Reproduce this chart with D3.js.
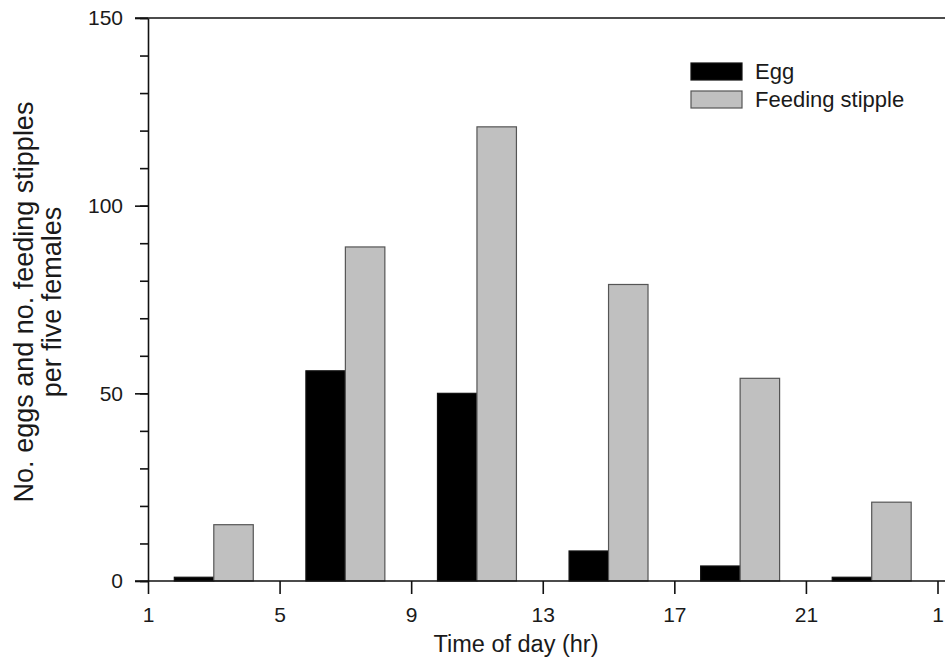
<!DOCTYPE html>
<html><head><meta charset="utf-8">
<script src="https://cdn.jsdelivr.net/npm/d3@7"></script>
<style>body{margin:0;background:#fff}svg{display:block}text{font-family:"Liberation Sans",Arial,sans-serif;fill:#1a1a1a}</style>
</head><body><svg id="c" width="945" height="662"></svg>
<script>
const hours = [3, 7, 11, 15, 19, 23];
const eggs = [1, 56, 50, 8, 4, 1];
const stipples = [15, 89, 121, 79, 54, 21];
const xTickValues = [1, 5, 9, 13, 17, 21, 25];
const xTickLabels = ["1", "5", "9", "13", "17", "21", "1"];
const yMajorTicks = [0, 50, 100, 150];
const yMinorTicks = d3.range(0, 151, 10);
const seriesNames = ["Egg", "Feeding stipple"];
const seriesColors = ["#000000", "#c0c0c0"];

const svg = d3.select("#c");
const x = d3.scaleLinear().domain([1, 25]).range([148, 937.5]);
const y = d3.scaleLinear().domain([0, 150]).range([581, 18]);
const barW = 1.2; // hours

// bars
const g = svg.append("g");
[eggs, stipples].forEach((vals, si) => {
  g.selectAll(null).data(vals).enter().append("rect")
    .attr("x", (d, i) => x(hours[i] + (si === 0 ? -barW : 0)))
    .attr("width", (d, i) => x(hours[i] + barW) - x(hours[i]))
    .attr("y", d => y(d))
    .attr("height", d => y(0) - y(d))
    .attr("fill", seriesColors[si])
    .attr("stroke", si === 0 ? "#111" : "#555")
    .attr("stroke-width", 1.2);
});

// x axis
const xAxis = d3.axisBottom(x).tickValues(xTickValues)
  .tickFormat((d, i) => xTickLabels[i]).tickSize(13).tickPadding(13).tickSizeOuter(0);
const gx = svg.append("g").attr("transform", `translate(0,${y(0)})`).call(xAxis);
gx.select(".domain").remove();
gx.append("line").attr("x1", 135).attr("x2", 960).attr("y1", 0).attr("y2", 0).attr("stroke", "#111").attr("stroke-width", 1.6);
gx.selectAll(".tick line").attr("stroke", "#111").attr("stroke-width", 1.6);
gx.selectAll(".tick text").attr("font-size", 21).attr("fill", "#1a1a1a");

// y axis
const yAxisMinor = d3.axisLeft(y).tickValues(yMinorTicks).tickSize(8).tickFormat("");
const gym = svg.append("g").attr("transform", `translate(${x(1)},0)`).call(yAxisMinor);
gym.select(".domain").remove();
gym.selectAll(".tick line").attr("stroke", "#111").attr("stroke-width", 1.6);
const yAxis = d3.axisLeft(y).tickValues(yMajorTicks).tickSize(13).tickPadding(12).tickSizeOuter(0);
const gy = svg.append("g").attr("transform", `translate(${x(1)},0)`).call(yAxis);
gy.select(".domain").attr("stroke", "#111").attr("stroke-width", 1.6);
gy.selectAll(".tick line").attr("stroke", "#111").attr("stroke-width", 1.6);
gy.selectAll(".tick text").attr("font-size", 21).attr("fill", "#1a1a1a");

// top frame line
svg.append("line").attr("x1", 135).attr("x2", 960).attr("y1", y(150)).attr("y2", y(150))
  .attr("stroke", "#111").attr("stroke-width", 1.6);

// axis titles
svg.append("text").attr("x", 516).attr("y", 652).attr("text-anchor", "middle")
  .attr("font-size", 23.5).text("Time of day (hr)");
const yt = svg.append("text").attr("transform", "translate(0,302) rotate(-90)")
  .attr("text-anchor", "middle").attr("font-size", 27);
yt.append("tspan").attr("x", 0).attr("y", 33).text("No. eggs and no. feeding stipples");
yt.append("tspan").attr("x", 0).attr("y", 61).text("per five females");

// legend
const lg = svg.append("g");
seriesNames.forEach((n, i) => {
  lg.append("rect").attr("x", 691).attr("y", 63 + i * 28).attr("width", 51).attr("height", 17)
    .attr("fill", seriesColors[i]).attr("stroke", i === 0 ? "#111" : "#555").attr("stroke-width", 1.2);
  lg.append("text").attr("x", 755).attr("y", 79 + i * 28).attr("font-size", 22).text(n);
});
</script></body></html>
